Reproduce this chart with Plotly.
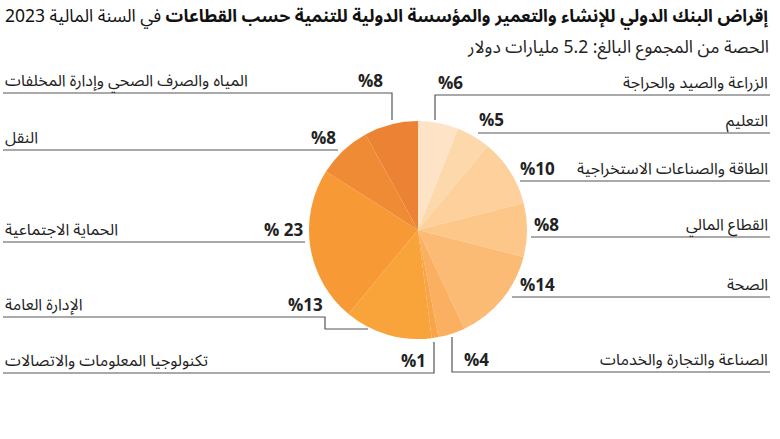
import plotly.graph_objects as go

W, H = 780, 439

# data
sectors = [
    'الزراعة والصيد والحراجة',
    'التعليم',
    'الطاقة والصناعات الاستخراجية',
    'القطاع المالي',
    'الصحة',
    'الصناعة والتجارة والخدمات',
    'تكنولوجيا المعلومات والاتصالات',
    'الإدارة العامة',
    'الحماية الاجتماعية',
    'النقل',
    'المياه والصرف الصحي وإدارة المخلفات',
]
shares = [6, 5, 10, 8, 14, 4, 1, 13, 23, 8, 8]
colors = ['#FEE3C6', '#FDD8AA', '#FDD09C', '#FDC78A', '#FCBB74', '#FBAF60',
          '#F9A446', '#F9A33B', '#F79A36', '#F08B35', '#EB8234']

title = '<b>إقراض البنك الدولي للإنشاء والتعمير والمؤسسة الدولية للتنمية حسب القطاعات</b> في السنة المالية 2023'
subtitle = 'الحصة من المجموع البالغ: 5.2 مليارات دولار'

# label layout: side, line y, percent x, leader path (pixel coords)
labels = [
    ('r', 95, 436, [(770, 95), (435, 95), (435, 120)]),
    ('r', 133, 477, [(770, 133), (478, 133)]),
    ('r', 181, 518, [(770, 181), (520, 181)]),
    ('r', 237, 532, [(770, 237), (531, 237)]),
    ('r', 297, 518, [(770, 297), (512, 297)]),
    ('r', 372, 462, [(770, 372), (452, 372), (452, 337)]),
    ('l', 373, 428, [(3, 373), (434, 373), (434, 342)]),
    ('l', 317, 325, [(3, 317), (325, 317), (325, 329), (368, 329)]),
    ('l', 242, 305, [(3, 242), (305, 242)]),
    ('l', 150, 338, [(3, 150), (338, 150)]),
    ('l', 93, 385, [(3, 93), (392, 93), (392, 120)]),
]


def px(x):
    return x / W


def py(y):
    return 1 - y / H


fig = go.Figure()
cx, cy, r = 418, 230, 109
fig.add_trace(go.Pie(
    values=shares, labels=sectors, sort=False, direction='clockwise', rotation=0,
    marker=dict(colors=colors, line=dict(width=0)),
    textinfo='none', hoverinfo='skip', showlegend=False,
    domain=dict(x=[px(cx - r), px(cx + r)], y=[py(cy + r), py(cy - r)]),
))

AR = 'Noto Sans Arabic, Noto Naskh Arabic, DejaVu Sans'
ar_font = dict(family=AR, size=16, color='#222')
pc_font = dict(family='Open Sans', size=17, color='#222')

ann = []
shapes = []
for name, v, (side, ly, pxx, path) in zip(sectors, shares, labels):
    pct = ('% ' if v == 23 else '%') + str(v)
    if side == 'r':
        ann.append(dict(x=px(770), y=py(ly - 12), text=name, xanchor='right', yanchor='middle', font=ar_font))
        ann.append(dict(x=px(pxx), y=py(ly - 13), text='<b>' + pct + '</b>', xanchor='left', yanchor='middle', font=pc_font))
    else:
        ann.append(dict(x=px(3), y=py(ly - 12), text=name, xanchor='left', yanchor='middle', font=ar_font))
        ann.append(dict(x=px(pxx), y=py(ly - 13), text='<b>' + pct + '</b>', xanchor='right', yanchor='middle', font=pc_font))
    d = 'M ' + ' L '.join(f'{px(x)} {py(y)}' for x, y in path)
    shapes.append(dict(type='path', xref='paper', yref='paper', path=d, line=dict(color='#555', width=1.2)))

ann.append(dict(x=px(771), y=py(17), text=title, xanchor='right', yanchor='middle',
                font=dict(family=AR, size=17.5, color='#111')))
ann.append(dict(x=px(771), y=py(47), text=subtitle, xanchor='right', yanchor='middle',
                font=dict(family=AR, size=17.5, color='#222')))

for a in ann:
    a.update(xref='paper', yref='paper', showarrow=False)

fig.update_layout(
    width=W, height=H,
    margin=dict(l=0, r=0, t=0, b=0),
    paper_bgcolor='white', plot_bgcolor='white',
    annotations=ann, shapes=shapes,
)

fig.write_html('out.html', config=dict(displayModeBar=False),
               post_script="document.body.style.margin='0';")
